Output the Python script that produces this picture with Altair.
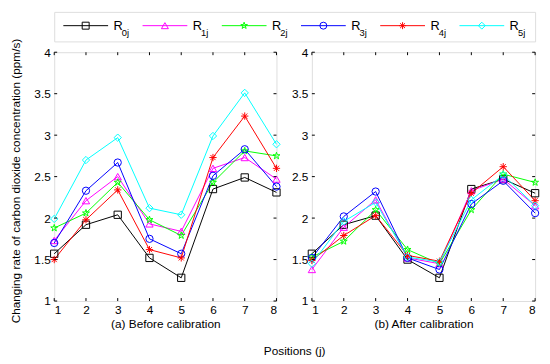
import altair as alt
import pandas as pd

FONT = "Liberation Sans"

positions = [1, 2, 3, 4, 5, 6, 7, 8]
series = ["R0j", "R1j", "R2j", "R3j", "R4j", "R5j"]
sub_labels = ["0j", "1j", "2j", "3j", "4j", "5j"]
colors = ["#000000", "#ff00ff", "#00ff00", "#0000ff", "#ff0000", "#00ffff"]
y_ticks = [1, 1.5, 2, 2.5, 3, 3.5, 4]

before_R0 = [1.57, 1.92, 2.04, 1.52, 1.28, 2.35, 2.49, 2.31]
before_R1 = [1.73, 2.21, 2.50, 1.93, 1.84, 2.60, 2.73, 2.47]
before_R2 = [1.88, 2.06, 2.43, 1.98, 1.79, 2.43, 2.81, 2.75]
before_R3 = [1.70, 2.33, 2.67, 1.75, 1.57, 2.51, 2.83, 2.38]
before_R4 = [1.50, 1.98, 2.34, 1.62, 1.52, 2.73, 3.23, 2.60]
before_R5 = [1.99, 2.70, 2.97, 2.12, 2.04, 2.99, 3.51, 2.89]

after_R0 = [1.57, 1.92, 2.03, 1.50, 1.28, 2.35, 2.47, 2.30]
after_R1 = [1.38, 1.89, 2.22, 1.52, 1.45, 2.33, 2.47, 2.15]
after_R2 = [1.53, 1.72, 2.10, 1.62, 1.45, 2.10, 2.53, 2.43]
after_R3 = [1.52, 2.02, 2.32, 1.52, 1.38, 2.17, 2.45, 2.06]
after_R4 = [1.49, 1.79, 2.03, 1.55, 1.48, 2.30, 2.62, 2.21]
after_R5 = [1.45, 1.96, 2.19, 1.53, 1.47, 2.22, 2.52, 2.15]

before = [before_R0, before_R1, before_R2, before_R3, before_R4, before_R5]
after = [after_R0, after_R1, after_R2, after_R3, after_R4, after_R5]

STAR = ("M0,-1L0.225,-0.309L0.951,-0.309L0.363,0.118L0.588,0.809L0,0.382"
        "L-0.588,0.809L-0.363,0.118L-0.951,-0.309L-0.225,-0.309Z")
ASTER = "M0,-1L0,1M-1,0L1,0M-0.7,-0.7L0.7,0.7M-0.7,0.7L0.7,-0.7"
shapes = ["square", "triangle-up", STAR, "circle", ASTER, "diamond"]

cscale = alt.Scale(domain=series, range=colors)
sscale = alt.Scale(domain=series, range=shapes)


def long_df(values):
    rows = []
    for name, vals in zip(series, values):
        for p, v in zip(positions, vals):
            rows.append({"series": name, "pos": p, "val": v})
    return pd.DataFrame(rows)


H = 253
xs = alt.Scale(domain=[1, 8], nice=False, zero=False)
ys = alt.Scale(domain=[1, 4], nice=False, zero=False)


def panel(values, sub_title, y_title, w):
    df = long_df(values)
    base = alt.Chart(df)
    xaxis = alt.Axis(
        values=positions, format="d", title=sub_title, domain=False, ticks=False,
        labelPadding=4, titlePadding=3, labelFontSize=12, titleFontSize=12,
        titleFontWeight="normal", labelFont=FONT, titleFont=FONT,
        labelColor="black", titleColor="black", grid=False)
    yaxis_kwargs = dict(values=y_ticks, format="~g", domain=False, ticks=False,
                        labelPadding=4, labelFontSize=12, labelFont=FONT,
                        labelColor="black", grid=False)
    if y_title:
        yaxis_kwargs.update(title=y_title, titleFontSize=12, titleFont=FONT,
                            titleFontWeight="normal", titleColor="black",
                            titlePadding=12, titleY=H / 2 + 4)
    else:
        yaxis_kwargs.update(title=None)
    yaxis = alt.Axis(**yaxis_kwargs)
    x = alt.X("pos:Q", scale=xs, axis=xaxis)
    y = alt.Y("val:Q", scale=ys, axis=yaxis)
    color = alt.Color("series:N", scale=cscale, legend=None)
    shape = alt.Shape("series:N", scale=sscale, legend=None)
    lines = base.mark_line(strokeWidth=1).encode(x=x, y=y, color=color)
    pts = base.mark_point(filled=False, size=55, strokeWidth=1, opacity=1).encode(
        x=x, y=y, color=color, shape=shape)

    ydf = pd.DataFrame({"val": y_ticks})
    xdf = pd.DataFrame({"pos": positions})
    yl = alt.Chart(ydf).mark_rule(color="black", strokeWidth=1).encode(
        y=y, x=alt.value(0), x2=alt.value(3))
    yr = alt.Chart(ydf).mark_rule(color="black", strokeWidth=1).encode(
        y=y, x=alt.value(w - 3), x2=alt.value(w))
    xb = alt.Chart(xdf).mark_rule(color="black", strokeWidth=1).encode(
        x=x, y=alt.value(H - 3), y2=alt.value(H))
    xt = alt.Chart(xdf).mark_rule(color="black", strokeWidth=1).encode(
        x=x, y=alt.value(0), y2=alt.value(3))
    return alt.layer(lines, pts, yl, yr, xb, xt).properties(width=w, height=H)


left = panel(before, "(a) Before calibration",
             "Changing rate of carbon dioxide concentration (ppm/s)", 226)
right = panel(after, "(b) After calibration", None, 227)

# manual legend
leg_df = pd.DataFrame({"series": series, "idx": list(range(6)), "sub": sub_labels})
lscale = alt.Scale(domain=[0, 6.07], nice=False, zero=False)
lbase = alt.Chart(leg_df).transform_calculate(
    xm="datum.idx + 0.397", x0="datum.idx + 0.115", x1="datum.idx + 0.68",
    xt="datum.idx + 0.748")
lcolor = alt.Color("series:N", scale=cscale, legend=None)
lrule = lbase.mark_rule(strokeWidth=1).encode(
    x=alt.X("x0:Q", scale=lscale, axis=None), x2="x1:Q", y=alt.value(14), color=lcolor)
lpts = lbase.mark_point(filled=False, size=50, strokeWidth=1, opacity=1).encode(
    x=alt.X("xm:Q", scale=lscale, axis=None), y=alt.value(14), color=lcolor,
    shape=alt.Shape("series:N", scale=sscale, legend=None))
ltxt = lbase.mark_text(align="left", baseline="alphabetic", fontSize=13, font=FONT,
                       color="black").encode(
    x=alt.X("xt:Q", scale=lscale, axis=None), y=alt.value(18), text=alt.value("R"))
lsub = lbase.mark_text(align="left", baseline="alphabetic", fontSize=9.5, font=FONT,
                       color="black", dx=8.5).encode(
    x=alt.X("xt:Q", scale=lscale, axis=None), y=alt.value(24), text="sub:N")
legend = alt.layer(lrule, lpts, ltxt, lsub).properties(width=489, height=30)

panels = alt.hconcat(left, right, spacing=36, bounds="flush")

chart = alt.vconcat(legend, panels, spacing=11, bounds="flush").properties(
    padding=0,
    title=alt.TitleParams("Positions (j)", orient="bottom", anchor="middle",
                          fontSize=12, fontWeight="normal", font=FONT,
                          color="black", offset=16, dx=20),
).configure_view(stroke="black", strokeWidth=1).configure(background="white")

chart.save("out.html", embed_options={"renderer": "svg", "actions": False})
